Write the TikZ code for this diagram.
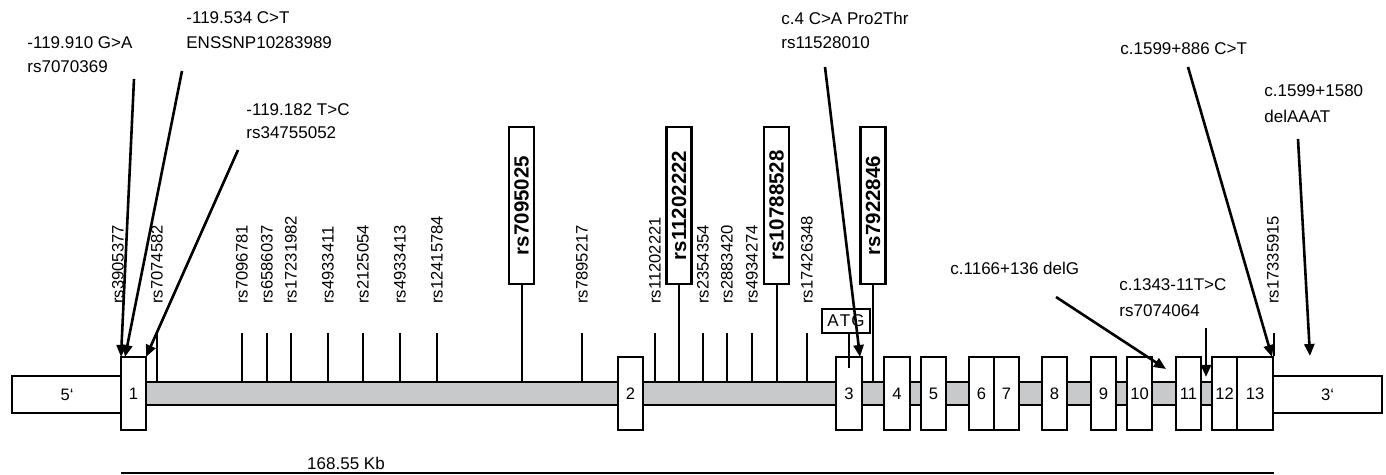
\documentclass[tikz,border=0pt]{standalone}
\usepackage{fontspec}
\setmainfont{Liberation Sans}
\usetikzlibrary{arrows.meta}
\definecolor{barg}{RGB}{200,201,203}
\begin{document}
\begin{tikzpicture}[x=0.5pt,y=-0.5pt,
  exon/.style={draw,fill=white,line width=1.2pt,minimum height=36.5pt,minimum width=12.5pt,inner sep=0pt,font=\fontsize{8.3}{9}\selectfont},
  utr/.style={draw,fill=white,line width=1.2pt,minimum height=18.5pt,inner sep=0pt,font=\fontsize{8.3}{9}\selectfont},
  vlab/.style={rotate=90,anchor=west,inner sep=0pt,font=\fontsize{8.3}{9}\selectfont},
  blab/.style={draw,fill=white,line width=1.2pt,rotate=90,minimum width=78.5pt,minimum height=12.5pt,inner sep=0pt,font=\bfseries\fontsize{10.25}{11}\selectfont},
  hlab/.style={anchor=west,inner sep=0pt,font=\fontsize{8.5}{10}\selectfont},
  arr/.style={line width=1.3pt,-{Triangle[length=6pt,width=5pt]}},
  tickline/.style={line width=1pt}
]
\useasboundingbox (0,0) rectangle (1386,475);
\coordinate (bar) at (0,382);
\coordinate (tk) at (0,333);
% intron bar
\draw[fill=barg,line width=1.2pt] (146,382) rectangle (1237,405);
% UTRs
\node[utr,minimum width=55pt] (u5) at (67,394.5) {5‘};
\node[utr,minimum width=54.5pt] (u3) at (1327.5,394.5) {3‘};
% exons
\node[exon] (e1) at (133.5,393.5) {1};
\node[exon] (e2) at (630.5,393.5) {2};
\node[exon,minimum width=13pt] (e3) at (849,393.5) {3};
\node[exon,minimum width=13pt] (e4) at (897,393.5) {4};
\node[exon] (e5) at (933.5,393.5) {5};
\node[exon] (e6) at (981.5,393.5) {6};
\node[exon] (e7) at (1006.5,393.5) {7};
\node[exon] (e8) at (1054.5,393.5) {8};
\node[exon] (e9) at (1103.5,393.5) {9};
\node[exon] (e10) at (1139.5,393.5) {10};
\node[exon] (e11) at (1188.5,393.5) {11};
\node[exon] (e12) at (1224.5,393.5) {12};
\node[exon,minimum width=18pt] (e13) at (1255,393.5) {13};
% ticks and vertical labels
\foreach \x/\n/\t in {157/v2/rs7074582,242/v3/rs7096781,267/v4/rs6586037,291/v5/rs17231982,328/v6/rs4933411,363/v7/rs2125054,400/v8/rs4933413,437/v9/rs12415784,582/v10/rs7895217,655/v11/rs11202221,703/v12/rs2354354,727/v13/rs2883420,752/v14/rs4934274,807/v15/rs17426348}{
  \draw[tickline] (\x,333) -- (\x,382);
  \node[vlab] (\n) at (\x,304) {\t};
}
\node[vlab] (v1) at (118,304) {rs3905377};
\node[vlab] (v16) at (1273,304) {rs17335915};
\draw[tickline] (e13.north east) -- (e13.north east |- tk);
% boxed bold labels
\node[blab] (b1) at (521.5,205.5) {rs7095025};
\node[blab] (b2) at (679,205.5) {rs11202222};
\node[blab] (b3) at (776.5,205.5) {rs10788528};
\node[blab] (b4) at (873,205.5) {rs7922846};
\draw[tickline] (b1.west) -- (b1.west |- bar);
\draw[tickline] (b2.west) -- (b2.west |- bar);
\draw[tickline] (b3.west) -- (b3.west |- bar);
\draw[tickline] (b4.west) -- (b4.west |- bar);
% ATG
\node[draw,line width=1.2pt,fill=white,minimum width=24pt,minimum height=12pt,inner sep=0pt,font=\fontsize{8.5}{10}\selectfont] (atg) at (846,321) {A\kern0.6pt T\kern0.6pt G};
\coordinate (atgend) at (849,368);
\draw[tickline] (atgend |- atg.south) -- (atgend);
% horizontal labels
\node[hlab] (t1a) at (27,43) {-119.910 G>A};
\node[hlab] (t1b) at (27,67) {rs7070369};
\node[hlab] (t2a) at (186,18) {-119.534 C>T};
\node[hlab] (t2b) at (186,43) {ENSSNP10283989};
\node[hlab] (t3a) at (246,110) {-119.182 T>C};
\node[hlab] (t3b) at (246,133) {rs34755052};
\node[hlab] (t4a) at (781,18) {c.4 C>A Pro2Thr};
\node[hlab] (t4b) at (781,43) {rs11528010};
\node[hlab] (t5) at (950,268) {c.1166+136 delG};
\node[hlab] (t6a) at (1119,285) {c.1343-11T>C};
\node[hlab] (t6b) at (1119,311) {rs7074064};
\node[hlab] (t7) at (1120,49) {c.1599+886 C>T};
\node[hlab] (t8a) at (1264,91) {c.1599+1580};
\node[hlab] (t8b) at (1264,116) {delAAAT};
% arrows
\coordinate (a1s) at (134,79);   \coordinate (a1e) at (121,357);
\coordinate (a2s) at (182,71);   \coordinate (a2e) at (125,357);
\coordinate (a3s) at (238,150);  \coordinate (a3e) at (146,357);
\coordinate (a4s) at (825,67);   \coordinate (a4e) at (860,357);
\coordinate (a5s) at (1056,297); \coordinate (a5e) at (1166,369);
\coordinate (a6s) at (1206,328); \coordinate (a6e) at (1206,377);
\coordinate (a7s) at (1188,67);  \coordinate (a7e) at (1272,357);
\coordinate (a8s) at (1298,139); \coordinate (a8e) at (1310,356);
\draw[arr] (a1s) -- (a1e);
\draw[arr] (a2s) -- (a2e);
\draw[arr] (a3s) -- (a3e);
\draw[arr] (a4s) -- (a4e);
\draw[arr] (a5s) -- (a5e);
\draw[arr] (a6s) -- (a6e);
\draw[arr] (a7s) -- (a7e);
\draw[arr] (a8s) -- (a8e);
% scale
\node[inner sep=0pt,font=\fontsize{8.5}{10}\selectfont] (kb) at (346,463) {168.55 Kb};
\coordinate (s1) at (121,473);
\coordinate (s2) at (1274,473);
\draw[line width=1.1pt] (s1) -- (s2);
\end{tikzpicture}
\end{document}
